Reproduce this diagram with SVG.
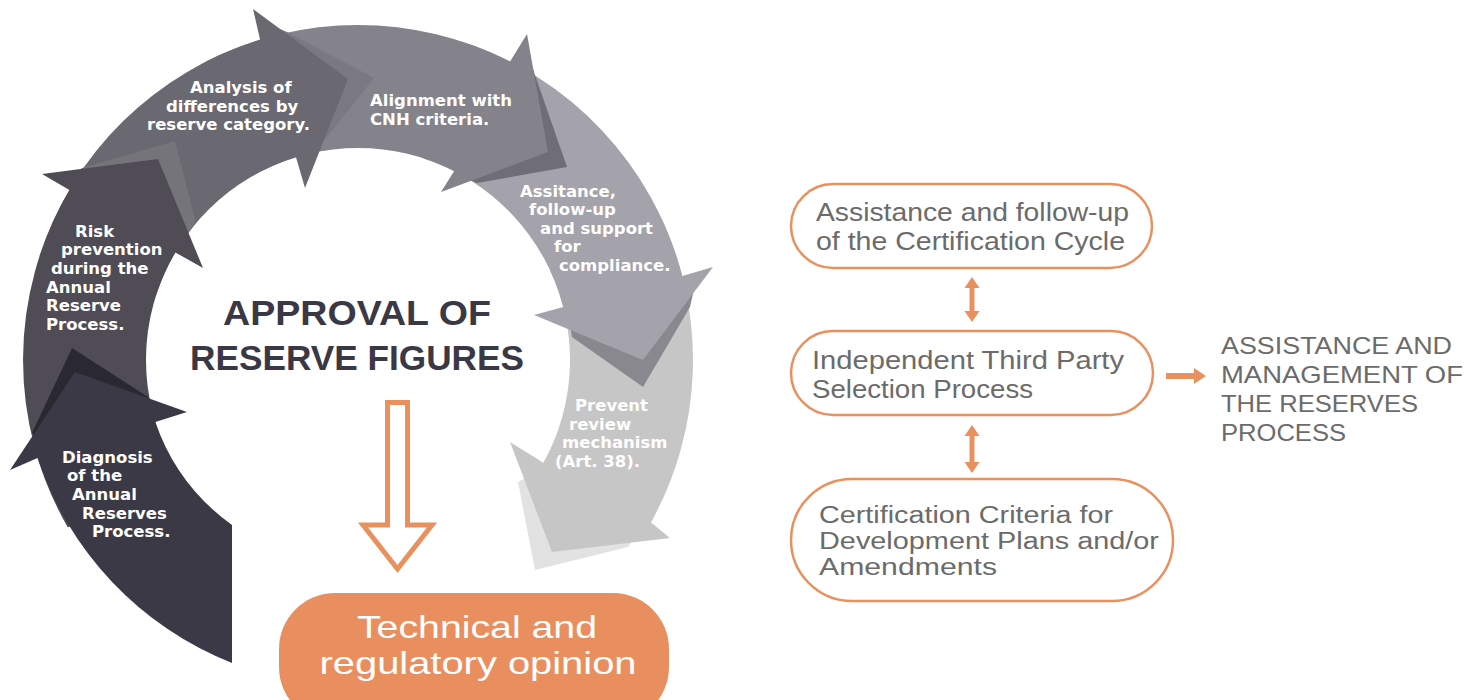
<svg xmlns="http://www.w3.org/2000/svg" width="1478" height="700" viewBox="0 0 1478 700">
<style>
.lbl{font-family:"DejaVu Sans","Liberation Sans",sans-serif;font-weight:bold;font-size:16.5px;fill:#ffffff}
.title{font-family:"Liberation Sans",Arial,sans-serif;font-weight:bold;font-size:35px;fill:#3b3845}
.box{fill:#ffffff;stroke:#e8915f;stroke-width:2.5}
.btxt{font-family:"Liberation Sans",Arial,sans-serif;font-size:25px;fill:#6b6b6b}
.btxt3{font-family:"Liberation Sans",Arial,sans-serif;font-size:23px;fill:#6b6b6b}
.head{font-family:"Liberation Sans",Arial,sans-serif;font-size:24px;fill:#6b6b6b}
.conn{fill:#e8915f}
.hollow{fill:none;stroke:#e8915f;stroke-width:5;stroke-linejoin:miter;stroke-miterlimit:10}
.op{fill:#e98f5f}
.optxt{font-family:"Liberation Sans",Arial,sans-serif;font-size:32px;fill:#ffffff}
</style>
<rect width="1478" height="700" fill="#ffffff"/>

<g id="seg-prevent">
<polygon points="518,482 535,570 628,547 640,530 540,470" fill="#e2e2e2"/>
<path d="M 661.6 218.4 A 335 335 0 0 1 651 522.4 L 670 538 L 552 552 L 510 442 L 543.4 462.8 A 212 212 0 0 0 550.1 270.4 Z" fill="#c6c6c7"/>
<text class="lbl"><tspan x="575" y="411">Prevent</tspan><tspan x="569" y="430">review</tspan><tspan x="562" y="448">mechanism</tspan><tspan x="555" y="467">(Art. 38).</tspan></text>
</g>

<g id="seg-assistance">
<polygon points="690,307 643,387 572,337 570,325 640,340 695,285" fill="#8a888f"/>
<path d="M 461.5 41.4 A 335 335 0 0 1 682.3 276.1 L 713 267 L 643 360 L 534 315 L 563.2 306.9 A 212 212 0 0 0 423.5 158.4 Z" fill="#a4a2aa"/>
<text class="lbl"><tspan x="520" y="197">Assitance,</tspan><tspan x="529" y="215">follow-up</tspan><tspan x="540" y="234">and support</tspan><tspan x="554" y="252">for</tspan><tspan x="559" y="271">compliance.</tspan></text>
</g>

<g id="seg-alignment">
<polygon points="535,75 567,167 477,183 470,180 500,120 530,60" fill="#6f6d75"/>
<path d="M 205.9 61.5 A 335 335 0 0 1 510.1 61.5 L 527 34 L 548 152 L 441 192 L 454.2 171.1 A 212 212 0 0 0 261.8 171.1 Z" fill="#84828a"/>
<text class="lbl"><tspan x="370" y="106">Alignment with</tspan><tspan x="370" y="125">CNH criteria.</tspan></text>
</g>

<g id="seg-analysis">
<polygon points="287,32 374,78 318,148 308,165 300,100 270,25" fill="#7a7880"/>
<path d="M 39.4 256.5 A 335 335 0 0 1 260.1 39.7 L 253 9 L 348 79 L 305 188 L 296 157.3 A 212 212 0 0 0 156.4 294.5 Z" fill="#6a6870"/>
<text class="lbl"><tspan x="190" y="93">Analysis of</tspan><tspan x="166" y="112">differences by</tspan><tspan x="147" y="130">reserve category.</tspan></text>
</g>

<g id="seg-risk">
<polygon points="82,168 175,141 196,223 186,236 140,190 70,180" fill="#76747b"/>
<path d="M 67.9 527.5 A 335 335 0 0 1 69.4 190 L 42 174 L 158 159 L 203 268 L 175.3 252.4 A 212 212 0 0 0 174.4 466 Z" fill="#4f4c56"/>
<text class="lbl"><tspan x="75" y="237">Risk</tspan><tspan x="61" y="255">prevention</tspan><tspan x="51" y="274">during the</tspan><tspan x="46" y="293">Annual</tspan><tspan x="46" y="311">Reserve</tspan><tspan x="46" y="330">Process.</tspan></text>
</g>

<g id="seg-diagnosis">
<polygon points="72,348 148,397 165,415 60,455 32,433" fill="#2a2830"/>
<path d="M 232 525 L 232 663 A 335 335 0 0 1 37.6 457.9 L 10 470 L 75 372 L 187 412 L 155.3 422 A 212 212 0 0 0 232 525 Z" fill="#3c3946"/>
<text class="lbl"><tspan x="62" y="463">Diagnosis</tspan><tspan x="67" y="481">of the</tspan><tspan x="72" y="500">Annual</tspan><tspan x="82" y="519">Reserves</tspan><tspan x="92" y="537">Process.</tspan></text>
</g>

<g id="title">
<text class="title" x="357" y="325" text-anchor="middle" textLength="268" lengthAdjust="spacingAndGlyphs">APPROVAL OF</text>
<text class="title" x="357" y="370" text-anchor="middle" textLength="334" lengthAdjust="spacingAndGlyphs">RESERVE FIGURES</text>
</g>

<g id="opinion">
<rect class="op" x="279" y="593" width="390" height="130" rx="56" ry="56"/>
<text class="optxt" x="477" y="638" text-anchor="middle" textLength="240" lengthAdjust="spacingAndGlyphs">Technical and</text>
<text class="optxt" x="478" y="674" text-anchor="middle" textLength="317" lengthAdjust="spacingAndGlyphs">regulatory opinion</text>
</g>

<g id="box-cycle">
<rect class="box" x="791" y="184" width="361" height="84" rx="42" ry="42"/>
<text class="btxt" x="816" y="221" textLength="313" lengthAdjust="spacingAndGlyphs">Assistance and follow-up</text>
<text class="btxt" x="816" y="250" textLength="309" lengthAdjust="spacingAndGlyphs">of the Certification Cycle</text>
</g>

<g id="box-selection">
<rect class="box" x="791" y="331" width="362" height="84" rx="42" ry="42"/>
<text class="btxt" x="812" y="369" textLength="312" lengthAdjust="spacingAndGlyphs">Independent Third Party</text>
<text class="btxt" x="812" y="398" textLength="221" lengthAdjust="spacingAndGlyphs">Selection Process</text>
</g>

<g id="box-criteria">
<rect class="box" x="791" y="479" width="382" height="122" rx="61" ry="61"/>
<text class="btxt3" x="819" y="523" textLength="294" lengthAdjust="spacingAndGlyphs">Certification Criteria for</text>
<text class="btxt3" x="819" y="549" textLength="340" lengthAdjust="spacingAndGlyphs">Development Plans and/or</text>
<text class="btxt3" x="819" y="575" textLength="178" lengthAdjust="spacingAndGlyphs">Amendments</text>
</g>

<g id="heading">
<text class="head" x="1221" y="354" textLength="231" lengthAdjust="spacingAndGlyphs">ASSISTANCE AND</text>
<text class="head" x="1221" y="383" textLength="242" lengthAdjust="spacingAndGlyphs">MANAGEMENT OF</text>
<text class="head" x="1221" y="412" textLength="197" lengthAdjust="spacingAndGlyphs">THE RESERVES</text>
<text class="head" x="1221" y="441" textLength="125" lengthAdjust="spacingAndGlyphs">PROCESS</text>
</g>

<g id="connectors">
<polygon class="hollow" points="387.5,402.5 407.5,402.5 407.5,525 432,525 397.5,569 363,525 387.5,525"/>
<polygon class="conn" points="972,277 979.5,288 974.5,288 974.5,311 979.5,311 972,322 964.5,311 969.5,311 969.5,288 964.5,288"/>
<polygon class="conn" points="972,425 979.5,436 974.5,436 974.5,462 979.5,462 972,473 964.5,462 969.5,462 969.5,436 964.5,436"/>
<polygon class="conn" points="1166,373 1194,373 1194,368 1206,376 1194,384 1194,379 1166,379"/>
</g>
</svg>
